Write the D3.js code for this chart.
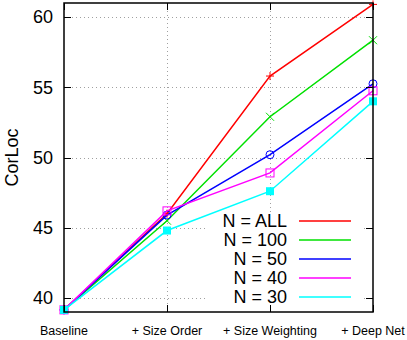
<!DOCTYPE html>
<html>
<head>
<meta charset="utf-8">
<script src="https://cdn.jsdelivr.net/npm/d3@7"></script>
<style>
  body { margin: 0; background: #fff; }
  text { font-family: "Liberation Sans", Arial, sans-serif; }
</style>
</head>
<body>
<script>
// Data
const stages = ["Baseline", "+ Size Order", "+ Size Weighting", "+ Deep Net"];
const seriesNames = ["N = ALL", "N = 100", "N = 50", "N = 40", "N = 30"];
const seriesColors = ["#ff0000", "#00e000", "#0000ff", "#ff00ff", "#00ffff"];
const seriesMarkers = ["plus", "cross", "circle", "square", "filledSquare"];
const valuesAll = [39.15, 46.0, 55.8, 60.9];
const values100 = [39.15, 45.5, 52.9, 58.35];
const values50 = [39.15, 45.9, 50.2, 55.25];
const values40 = [39.15, 46.2, 48.9, 54.75];
const values30 = [39.15, 44.8, 47.6, 54.0];
const yTicks = [40, 45, 50, 55, 60];

const allValues = [valuesAll, values100, values50, values40, values30];

let margin = null, width = null, height = null;
let svg = null, x = null, y = null;

setupCanvasSize();
appendSvg("body");
setupScales();
appendGrid();
appendLegendBox();
appendSeries();
appendFrame();
appendAxesText();
appendLegend();

function setupCanvasSize() {
    margin = {top: 3, left: 64, bottom: 28, right: 34};
    width = 407 - margin.left - margin.right;
    height = 340 - margin.top - margin.bottom;
}

function appendSvg(domElement) {
    svg = d3.select(domElement).append("svg")
            .attr("width", 407)
            .attr("height", 340)
            .append("g")
            .attr("transform", `translate(${margin.left}, ${margin.top})`);
}

function setupScales() {
    x = d3.scalePoint().domain(stages).range([0, width]);
    y = d3.scaleLinear().domain([39, 61]).range([height, 0]);
}

// dotted grid lines
function appendGrid() {
    const g = svg.append("g").attr("stroke", "#a0a0a0").attr("stroke-width", 1)
                 .attr("stroke-dasharray", "1,3");
    g.selectAll(".hg").data(yTicks).enter().append("line")
        .attr("x1", 0).attr("x2", width)
        .attr("y1", d => Math.round(y(d)) + 0.5).attr("y2", d => Math.round(y(d)) + 0.5);
    g.selectAll(".vg").data(stages.slice(1, 3)).enter().append("line")
        .attr("x1", d => Math.round(x(d)) + 0.5).attr("x2", d => Math.round(x(d)) + 0.5)
        .attr("y1", 0).attr("y2", height);
}

// opaque key background
function appendLegendBox() {
    svg.append("rect")
        .attr("x", 141).attr("y", 209)
        .attr("width", 158).attr("height", 95)
        .attr("fill", "#fff");
}

function appendSeries() {
    const line = d3.line().x((d, i) => x(stages[i])).y(d => y(d));
    allValues.forEach((vals, k) => {
        const color = seriesColors[k];
        svg.append("path")
            .datum(vals)
            .attr("d", line)
            .attr("fill", "none")
            .attr("stroke", color)
            .attr("stroke-width", 1.5);
        const pts = svg.append("g");
        vals.forEach((v, i) => {
            drawMarker(pts, seriesMarkers[k], x(stages[i]), y(v), color);
        });
    });
}

function drawMarker(g, type, cx, cy, color) {
    const s = 4;
    if (type === "plus") {
        g.append("path").attr("d", `M${cx - s},${cy}H${cx + s}M${cx},${cy - s}V${cy + s}`)
            .attr("stroke", color).attr("stroke-width", 1);
    } else if (type === "cross") {
        g.append("path").attr("d", `M${cx - s},${cy - s}L${cx + s},${cy + s}M${cx - s},${cy + s}L${cx + s},${cy - s}`)
            .attr("stroke", color).attr("stroke-width", 1);
    } else if (type === "circle") {
        g.append("circle").attr("cx", cx).attr("cy", cy).attr("r", s)
            .attr("fill", "none").attr("stroke", color).attr("stroke-width", 1);
    } else if (type === "square") {
        g.append("rect").attr("x", cx - s).attr("y", cy - s).attr("width", 2 * s).attr("height", 2 * s)
            .attr("fill", "none").attr("stroke", color).attr("stroke-width", 1);
    } else {
        g.append("rect").attr("x", cx - s).attr("y", cy - s).attr("width", 2 * s).attr("height", 2 * s)
            .attr("fill", color);
    }
}

// border and mirrored inward ticks
function appendFrame() {
    const tl = 7;
    const g = svg.append("g").attr("stroke", "#000").attr("stroke-width", 1);
    yTicks.forEach(t => {
        const yy = Math.round(y(t)) + 0.5;
        g.append("line").attr("x1", 0).attr("x2", tl).attr("y1", yy).attr("y2", yy);
        g.append("line").attr("x1", width - tl).attr("x2", width).attr("y1", yy).attr("y2", yy);
    });
    stages.forEach(s => {
        const xx = Math.round(x(s)) + 0.5;
        g.append("line").attr("x1", xx).attr("x2", xx).attr("y1", 0).attr("y2", tl);
        g.append("line").attr("x1", xx).attr("x2", xx).attr("y1", height - tl).attr("y2", height);
    });
    svg.append("rect")
        .attr("x", 0).attr("y", 0).attr("width", width).attr("height", height)
        .attr("fill", "none").attr("stroke", "#000").attr("stroke-width", 1.5);
}

function appendAxesText() {
    svg.selectAll(".ylab").data(yTicks).enter().append("text")
        .attr("x", -11).attr("y", d => y(d))
        .attr("dy", "0.35em")
        .attr("text-anchor", "end")
        .attr("font-size", 18)
        .text(d => d);
    svg.selectAll(".xlab").data(stages).enter().append("text")
        .attr("x", d => x(d)).attr("y", height + 23)
        .attr("text-anchor", "middle")
        .attr("font-size", 12.5)
        .text(d => d);
    svg.append("text")
        .attr("transform", `translate(${-margin.left + 18}, ${height / 2}) rotate(-90)`)
        .attr("text-anchor", "middle")
        .attr("font-size", 18)
        .text("CorLoc");
}

function appendLegend() {
    const rowY = d3.scaleLinear().domain([0, 4]).range([218, 294]);
    seriesNames.forEach((name, k) => {
        const yy = rowY(k);
        svg.append("text")
            .attr("x", 223).attr("y", yy)
            .attr("dy", "0.36em")
            .attr("text-anchor", "end")
            .attr("font-size", 18)
            .text(name);
        svg.append("line")
            .attr("x1", 235).attr("x2", 287)
            .attr("y1", yy).attr("y2", yy)
            .attr("stroke", seriesColors[k]).attr("stroke-width", 1.5);
    });
}
</script>
</body>
</html>
